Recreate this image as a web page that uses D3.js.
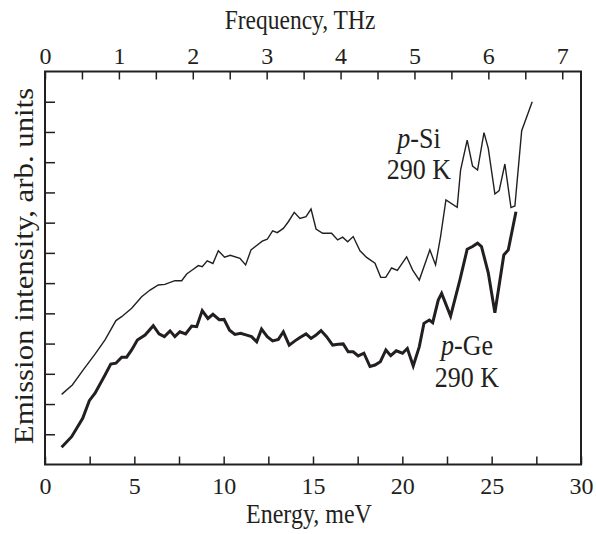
<!DOCTYPE html>
<html>
<head>
<meta charset="utf-8">
<script src="https://cdn.jsdelivr.net/npm/d3@7"></script>
<style>
  body { margin: 0; background: #fff; }
  svg { display: block; }
  text { font-family: "Liberation Serif", "Times New Roman", serif; fill: #231f20; }
</style>
</head>
<body>
<script>
// p-Si, 290 K (thin line): energy in meV, intensity in arb. units
const siEnergy = [0.93, 1.53, 2.14, 2.80, 3.36, 3.97, 4.29, 4.85, 5.41, 5.88, 6.34, 6.71, 7.27, 7.65, 7.93,
  8.30, 8.58, 8.80, 9.08, 9.40, 9.70, 10.05, 10.37, 10.91, 11.23, 11.53, 11.81, 12.16, 12.44, 12.74,
  13.00, 13.34, 13.62, 13.95, 14.27, 14.61, 14.89, 15.17, 15.54, 16.04, 16.38, 16.66, 16.94, 17.25,
  17.63, 18.00, 18.47, 18.79, 19.07, 19.40, 19.72, 20.24, 20.58, 20.95, 21.54, 21.86, 22.14, 22.44,
  23.07, 23.26, 23.63, 23.93, 24.21, 24.57, 24.81, 25.18, 25.42, 25.74, 26.08, 26.30, 26.68, 27.27];
const siIntensity = [2.32, 2.63, 3.13, 3.65, 4.12, 4.76, 4.89, 5.17, 5.55, 5.77, 5.94, 5.96, 6.08, 6.08, 6.30,
  6.46, 6.58, 6.54, 6.74, 6.65, 7.07, 6.86, 6.92, 6.82, 6.60, 7.10, 7.23, 7.39, 7.45, 7.73,
  7.67, 7.81, 8.03, 8.34, 8.14, 8.20, 8.45, 7.79, 7.65, 7.65, 7.43, 7.52, 7.37, 7.54,
  7.07, 6.85, 6.66, 6.19, 6.19, 6.50, 6.42, 6.87, 6.43, 6.10, 7.10, 6.60, 7.54, 8.75,
  8.51, 9.74, 10.73, 9.87, 9.74, 10.98, 10.46, 8.95, 9.06, 9.94, 8.50, 8.55, 11.04, 12.00];

// p-Ge, 290 K (thick line)
const geEnergy = [0.93, 1.49, 2.11, 2.48, 2.80, 3.36, 3.68, 3.97, 4.29, 4.57, 4.85, 5.17, 5.60, 6.06, 6.38,
  6.68, 7.00, 7.27, 7.55, 7.87, 8.21, 8.49, 8.80, 9.12, 9.40, 9.75, 10.02, 10.33, 10.63, 10.95,
  11.29, 11.56, 11.85, 12.12, 12.44, 12.74, 13.06, 13.34, 13.67, 13.99, 14.27, 14.61, 14.89, 15.17,
  15.45, 15.76, 16.10, 16.41, 16.69, 16.97, 17.25, 17.53, 17.85, 18.19, 18.47, 18.77, 19.08, 19.35,
  19.66, 20.01, 20.28, 20.61, 20.95, 21.21, 21.51, 21.70, 22.01, 22.20, 22.70, 23.22, 23.63, 23.93,
  24.21, 24.43, 24.81, 25.18, 25.68, 25.93, 26.36];
const geIntensity = [0.57, 0.92, 1.53, 2.11, 2.36, 2.96, 3.32, 3.35, 3.55, 3.55, 3.79, 4.12, 4.28, 4.59, 4.32,
  4.23, 4.42, 4.23, 4.39, 4.32, 4.58, 4.56, 5.09, 4.83, 4.97, 4.79, 4.80, 4.44, 4.30, 4.34,
  4.28, 4.23, 4.06, 4.48, 4.23, 4.09, 4.14, 4.39, 3.95, 4.09, 4.20, 4.32, 4.17, 4.28,
  4.43, 4.23, 3.95, 3.98, 3.99, 3.73, 3.73, 3.59, 3.68, 3.24, 3.29, 3.40, 3.79, 3.60,
  3.76, 3.68, 3.84, 3.26, 3.90, 4.67, 4.78, 4.69, 5.44, 5.66, 4.91, 6.10, 7.12, 7.21,
  7.32, 7.21, 6.34, 5.02, 6.93, 7.10, 8.36];

const energyTicks = d3.range(0, 30.01, 2.5);
const energyLabels = [0, 5, 10, 15, 20, 25, 30];
const freqTicks = d3.range(0, 7.01, 0.5);
const freqLabels = [0, 1, 2, 3, 4, 5, 6, 7];
const intensityTicks = d3.range(1, 13);
const MEV_PER_THZ = 4.1357;

const width = 596, height = 534;
const ink = "#231f20";

const x = d3.scaleLinear().domain([0, 30]).range([45, 581]);
const xf = d3.scaleLinear().domain([0, 30 / MEV_PER_THZ]).range([45, 581]);
const y = d3.scaleLinear().domain([0, 13]).range([464.5, 71.5]);

const svg = d3.select("body").append("svg")
    .attr("width", width)
    .attr("height", height);

// bottom: inward ticks
svg.append("g")
    .attr("transform", `translate(0,${y(0)})`)
    .call(d3.axisTop(x).tickValues(energyTicks).tickSize(8).tickFormat(""))
    .call(g => g.select(".domain").remove());
svg.append("g")
    .attr("transform", `translate(0,${y(0)})`)
    .call(d3.axisBottom(x).tickValues(energyLabels).tickSize(0).tickFormat(d3.format("d")))
    .call(g => g.select(".domain").remove())
    .call(g => g.selectAll("text").attr("y", 29.5).attr("dy", null)
        .attr("font-size", 24).attr("font-family", null).attr("fill", ink));

// top: frequency axis
svg.append("g")
    .attr("transform", `translate(0,${y(13)})`)
    .call(d3.axisBottom(xf).tickValues(freqTicks).tickSize(8).tickFormat(""))
    .call(g => g.select(".domain").remove());
svg.append("g")
    .attr("transform", `translate(0,${y(13)})`)
    .call(d3.axisTop(xf).tickValues(freqLabels).tickSize(0).tickFormat(d3.format("d")))
    .call(g => g.select(".domain").remove())
    .call(g => g.selectAll("text").attr("y", -7.5).attr("dy", null)
        .attr("font-size", 24).attr("font-family", null).attr("fill", ink));

// left ticks, no labels
svg.append("g")
    .attr("transform", `translate(${x(0)},0)`)
    .call(d3.axisRight(y).tickValues(intensityTicks).tickSize(10).tickFormat(""))
    .call(g => g.select(".domain").remove());

svg.selectAll(".tick line").attr("stroke", ink).attr("stroke-width", 1.5);

// frame
svg.append("rect")
    .attr("x", x(0)).attr("y", y(13))
    .attr("width", x(30) - x(0)).attr("height", y(0) - y(13))
    .attr("fill", "none").attr("stroke", ink).attr("stroke-width", 2);

const line = d3.line().x(d => x(d[0])).y(d => y(d[1]));

svg.append("path")
    .datum(d3.zip(siEnergy, siIntensity))
    .attr("fill", "none").attr("stroke", ink).attr("stroke-width", 1.4)
    .attr("d", line);

svg.append("path")
    .datum(d3.zip(geEnergy, geIntensity))
    .attr("fill", "none").attr("stroke", ink).attr("stroke-width", 3)
    .attr("d", line);

// text stretched vertically a bit, like the print
function label(px, py, size, sy, parts, anchor = "middle") {
  const t = svg.append("text")
      .attr("transform", `translate(${px},${py}) scale(1,${sy})`)
      .attr("font-size", size)
      .attr("text-anchor", anchor);
  parts.forEach(([s, italic]) => t.append("tspan")
      .attr("font-style", italic ? "italic" : null).text(s));
  return t;
}

label(300, 29, 23.5, 1.15, [["Frequency, THz"]]);
label(309, 523, 24, 1.12, [["Energy, meV"]]);

svg.append("text")
    .attr("transform", "translate(33,266) rotate(-90) scale(1.1,1)")
    .attr("text-anchor", "middle")
    .attr("font-size", 28)
    .text("Emission intensity, arb. units");

label(419, 148, 26, 1.1, [["p", true], ["-Si"]]);
label(419, 179, 26, 1.1, [["290 K"]]);
label(467, 355, 26, 1.1, [["p", true], ["-Ge"]]);
label(467, 387, 26, 1.1, [["290 K"]]);
</script>
</body>
</html>
